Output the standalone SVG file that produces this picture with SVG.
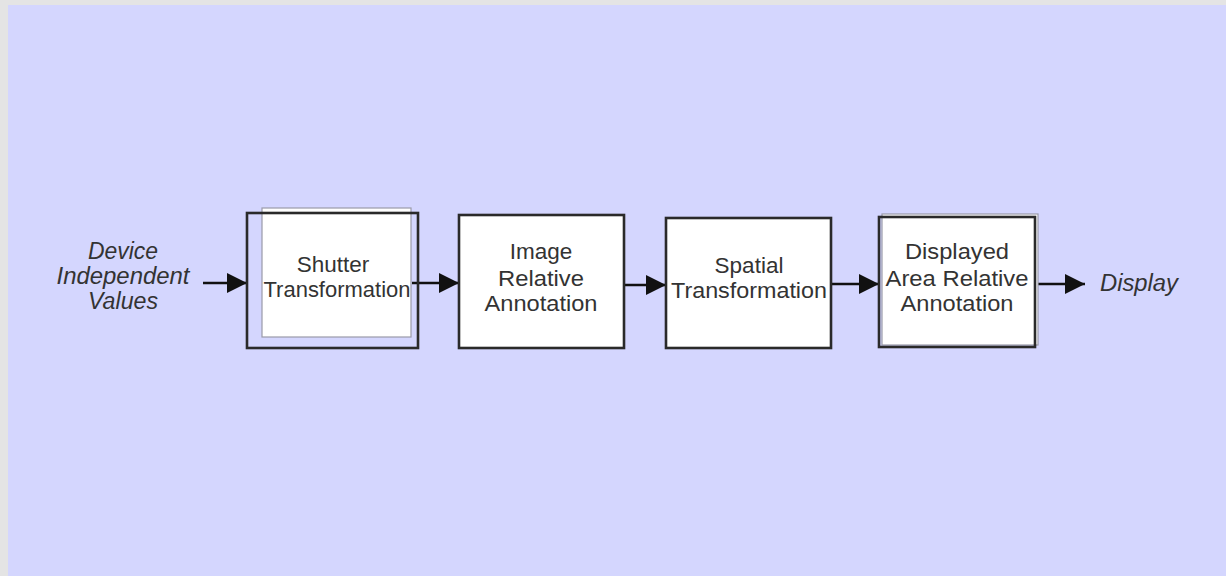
<svg xmlns="http://www.w3.org/2000/svg" width="1226" height="576" viewBox="0 0 1226 576">
<defs>
<style>
.box{fill:#ffffff;stroke:#2a2a2a;stroke-width:2.6}
.frame{fill:none;stroke:#2a2a2a;stroke-width:2.6}
.ghost{fill:#ffffff;stroke:#9a9aa8;stroke-width:1.2}
.lbl{font-family:"Liberation Sans",Arial,sans-serif;font-size:22.5px;fill:#333;text-anchor:middle}
.it{font-family:"Liberation Sans",Arial,sans-serif;font-size:23px;font-style:italic;fill:#333;text-anchor:middle}
.con{stroke:#111;stroke-width:2.4;fill:none;marker-end:url(#ah)}
</style>
<marker id="ah" markerWidth="22" markerHeight="20" refX="20" refY="10" orient="auto" markerUnits="userSpaceOnUse">
<path d="M0,0 L20,10 L0,20 Z" fill="#111"/>
</marker>
</defs>
<rect x="0" y="0" width="1226" height="576" fill="#e4e4e4"/>
<rect x="8" y="5" width="1218" height="571" fill="#d4d6fe"/>

<g id="connectors">
<line class="con" x1="203" y1="283" x2="247" y2="283"/>
<line class="con" x1="412" y1="283" x2="459" y2="283"/>
<line class="con" x1="624" y1="285" x2="666" y2="285"/>
<line class="con" x1="831" y1="284" x2="879" y2="284"/>
<line class="con" x1="1035" y1="284" x2="1085" y2="284"/>
</g>

<g id="input-label">
<text class="it" x="123" y="259" textLength="70" lengthAdjust="spacingAndGlyphs">Device</text>
<text class="it" x="123" y="284" textLength="133" lengthAdjust="spacingAndGlyphs">Independent</text>
<text class="it" x="123" y="309" textLength="70" lengthAdjust="spacingAndGlyphs">Values</text>
</g>

<g id="shutter">
<rect class="ghost" x="262" y="208" width="149" height="129"/>
<rect class="frame" x="247" y="213" width="171" height="135"/>
<text class="lbl" x="333" y="272">Shutter</text>
<text class="lbl" x="337" y="297" textLength="147" lengthAdjust="spacingAndGlyphs">Transformation</text>
</g>

<g id="image-relative">
<rect class="box" x="459" y="215" width="165" height="133"/>
<text class="lbl" x="541" y="259">Image</text>
<text class="lbl" x="541" y="286" textLength="86" lengthAdjust="spacingAndGlyphs">Relative</text>
<text class="lbl" x="541" y="311" textLength="113" lengthAdjust="spacingAndGlyphs">Annotation</text>
</g>

<g id="spatial">
<rect class="box" x="666" y="218" width="165" height="130"/>
<text class="lbl" x="749" y="273">Spatial</text>
<text class="lbl" x="749" y="298" textLength="156" lengthAdjust="spacingAndGlyphs">Transformation</text>
</g>

<g id="displayed-area">
<rect class="ghost" x="882" y="214" width="156" height="131"/>
<rect class="frame" x="879" y="217" width="156" height="130"/>
<text class="lbl" x="957" y="259" textLength="104" lengthAdjust="spacingAndGlyphs">Displayed</text>
<text class="lbl" x="957" y="286" textLength="143" lengthAdjust="spacingAndGlyphs">Area Relative</text>
<text class="lbl" x="957" y="311" textLength="113" lengthAdjust="spacingAndGlyphs">Annotation</text>
</g>

<g id="output-label">
<text class="it" x="1139" y="291" textLength="78" lengthAdjust="spacingAndGlyphs">Display</text>
</g>
</svg>
